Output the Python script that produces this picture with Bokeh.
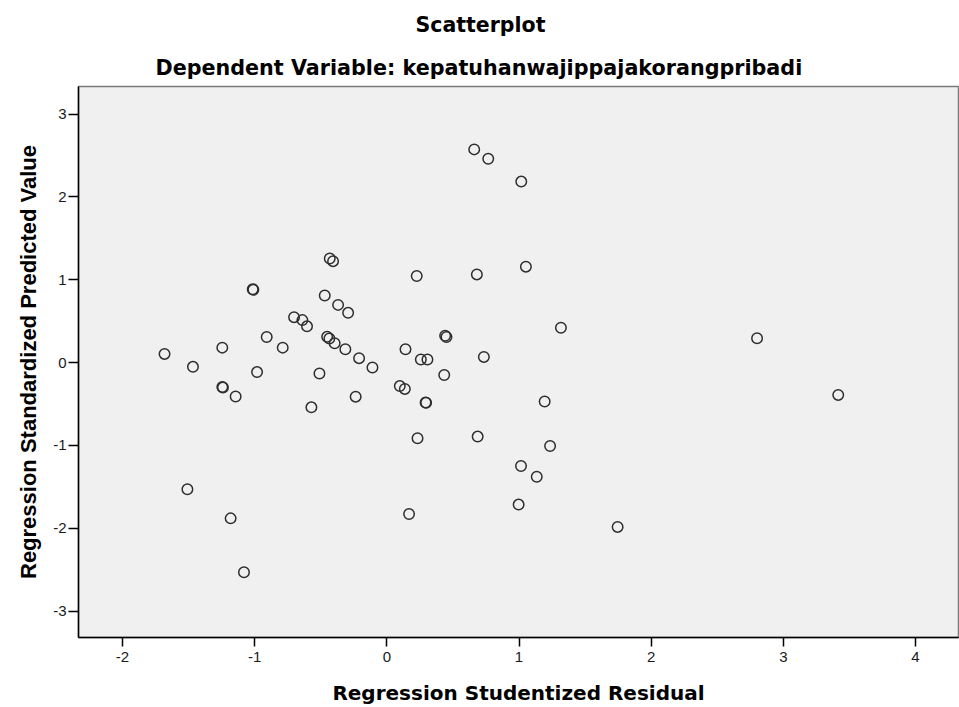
from bokeh.plotting import figure
from bokeh.models import FixedTicker, Range1d, Title, ColumnDataSource
from bokeh.embed import file_html
from bokeh.resources import INLINE

title_text = "Scatterplot"
subtitle_text = "Dependent Variable: kepatuhanwajippajakorangpribadi"
x_label = "Regression Studentized Residual"
y_label = "Regression Standardized Predicted Value"

x_ticks = [-2, -1, 0, 1, 2, 3, 4]
y_ticks = [-3, -2, -1, 0, 1, 2, 3]

studentized_residual = [
    0.661, 0.767, 1.017, -0.432, -0.407, 0.226, 0.681, 1.052, -1.015, -1.010,
    -0.470, -0.369, -0.293, -0.702, -0.639, -0.604, -0.909, -1.245, -0.788, -0.452,
    -0.435, -0.395, -0.314, -1.682, -0.210, -0.109, -1.467, -0.982, -0.510, -1.245,
    -1.240, -1.144, -0.571, -0.236, 0.141, 0.441, 0.451, 0.257, 0.307, 0.734,
    0.434, 0.098, 0.136, 0.293, 0.297, 1.317, 1.194, 0.232, 0.687, 1.235,
    1.015, 1.134, -1.509, 0.997, 0.168, -1.182, 1.746, -1.081, 2.801, 3.415,
]
standardized_predicted = [
    2.573, 2.460, 2.184, 1.256, 1.224, 1.044, 1.064, 1.157, 0.885, 0.878,
    0.809, 0.696, 0.600, 0.548, 0.512, 0.437, 0.308, 0.180, 0.180, 0.310,
    0.290, 0.233, 0.161, 0.104, 0.053, -0.060, -0.052, -0.115, -0.132, -0.296,
    -0.300, -0.410, -0.541, -0.412, 0.161, 0.324, 0.308, 0.036, 0.036, 0.068,
    -0.151, -0.284, -0.318, -0.482, -0.486, 0.420, -0.470, -0.914, -0.894, -1.007,
    -1.249, -1.379, -1.529, -1.715, -1.828, -1.881, -1.984, -2.531, 0.293, -0.391,
]

source = ColumnDataSource(data=dict(x=studentized_residual, y=standardized_predicted))

p = figure(width=959, height=707, output_backend="svg", toolbar_location=None,
           title=None,
           x_range=Range1d(-2.333, 4.325), y_range=Range1d(-3.319, 3.332),
           min_border_left=78, min_border_right=1, min_border_top=83,
           min_border_bottom=70)
p.background_fill_color = "#f0f0f0"
p.border_fill_color = "white"
p.outline_line_color = "#7a7a7a"
p.outline_line_width = 1.5
p.grid.visible = False

p.scatter("x", "y", source=source, marker="circle", size=10.5,
          fill_color=None, line_color="#2e2e2e", line_width=1.5)

for ax in (p.xaxis[0], p.yaxis[0]):
    ax.axis_line_color = "black"
    ax.axis_line_width = 1.5
    ax.major_tick_line_color = "black"
    ax.major_tick_line_width = 1.5
    ax.major_tick_in = 0
    ax.minor_tick_line_color = None
    ax.major_label_text_font = "Liberation Sans"
    ax.major_label_text_font_size = "15px"
    ax.major_label_text_color = "#1a1a1a"
    ax.axis_label_text_color = "black"
    ax.axis_label_text_font_style = "bold"

p.xaxis[0].ticker = FixedTicker(ticks=x_ticks)
p.yaxis[0].ticker = FixedTicker(ticks=y_ticks)
p.xaxis[0].major_label_overrides = {t: str(t) for t in x_ticks}
p.yaxis[0].major_label_overrides = {t: str(t) for t in y_ticks}
p.xaxis[0].major_tick_out = 9
p.yaxis[0].major_tick_out = 10
p.xaxis[0].major_label_standoff = 5
p.yaxis[0].major_label_standoff = 2

p.xaxis[0].axis_label = x_label
p.xaxis[0].axis_label_text_font = "DejaVu Sans"
p.xaxis[0].axis_label_text_font_size = "20px"
p.xaxis[0].axis_label_standoff = 16

p.yaxis[0].axis_label = y_label
p.yaxis[0].axis_label_text_font = "Liberation Sans"
p.yaxis[0].axis_label_text_font_size = "22px"
p.yaxis[0].axis_label_standoff = 9

sub = Title(text=subtitle_text, align="left", offset=77, standoff=14,
            text_font="DejaVu Sans", text_font_style="bold",
            text_font_size="20.7px", text_color="black")
main = Title(text=title_text, align="left", offset=337, standoff=20,
             text_font="DejaVu Sans", text_font_style="bold",
             text_font_size="20.5px", text_color="black")
p.add_layout(sub, "above")
p.add_layout(main, "above")

open("out.html", "w").write(file_html(p, INLINE))
